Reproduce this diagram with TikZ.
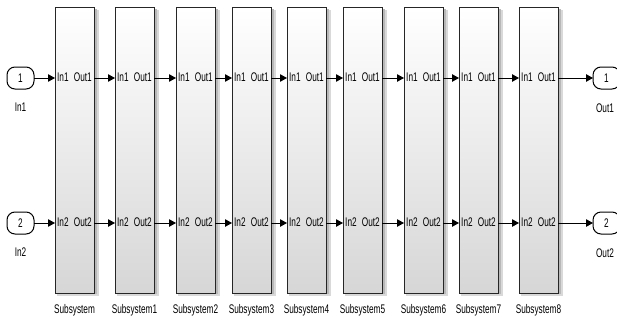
\documentclass[tikz,border=0pt]{standalone}
\usepackage{fontspec}
\setmainfont{Liberation Sans}[FakeStretch=0.66]
\usetikzlibrary{arrows.meta}
\tikzset{
  sysbox/.style={draw=black!85, line width=1pt, top color=white, bottom color=black!16,
    minimum width=39pt, minimum height=285pt, inner sep=0pt, outer sep=0pt},
  portbox/.style={draw=black, line width=1pt, rounded corners=8pt, fill=white,
    minimum width=27pt, minimum height=22pt, inner sep=0pt, outer sep=0pt},
  txt/.style={inner sep=0pt, font=\fontsize{12.5}{13}\selectfont},
  arr/.style={line width=1pt, -{Triangle[length=7pt,width=7.5pt]}},
}
\begin{document}
\begin{tikzpicture}[x=1pt,y=1pt]
\useasboundingbox (0,0) rectangle (617,322);
\fill[white] (0,0) rectangle (617,322);
\coordinate (r1) at (0,244);
\coordinate (r2) at (0,99);
% subsystems
\foreach \i/\x/\lab in {0/55/Subsystem,1/115/Subsystem1,2/176/Subsystem2,3/232/Subsystem3,4/287/Subsystem4,5/343/Subsystem5,6/404/Subsystem6,7/459/Subsystem7,8/519/Subsystem8}{
  \fill[black!15] (\x+2,26.5) rectangle (\x+43.5,312);
  \fill[black!28] (\x+2,28) rectangle (\x+41.5,313);
  \node[sysbox] (s\i) at (\x+19.5,171.5) {};
  \node[txt, anchor=west] (i1s\i) at (\x+2,244.5) {In1};
  \node[txt, anchor=east] (o1s\i) at (\x+37,244.5) {Out1};
  \node[txt, anchor=west] (i2s\i) at (\x+2,99.5) {In2};
  \node[txt, anchor=east] (o2s\i) at (\x+37,99.5) {Out2};
  \node[txt] (l\i) at (\x+19.5,12) {\lab};
}
% ports
\node[portbox] (in1) at (20.5,244) {\fontsize{12.5}{13}\selectfont 1};
\node[portbox] (in2) at (20.5,99) {\fontsize{12.5}{13}\selectfont 2};
\node[portbox] (out1) at (606.5,244) {\fontsize{12.5}{13}\selectfont 1};
\node[portbox] (out2) at (606.5,99) {\fontsize{12.5}{13}\selectfont 2};
\node[txt] (lin1) at (20.5,215) {In1};
\node[txt] (lin2) at (20.5,70) {In2};
\node[txt] (lout1) at (605,214) {Out1};
\node[txt] (lout2) at (605,69) {Out2};
% connectors
\draw[arr] (in1.east) -- (s0.west |- r1);
\draw[arr] (in2.east) -- (s0.west |- r2);
\foreach \a/\b in {0/1,1/2,2/3,3/4,4/5,5/6,6/7,7/8}{
  \draw[arr] (s\a.east |- r1) -- (s\b.west |- r1);
  \draw[arr] (s\a.east |- r2) -- (s\b.west |- r2);
}
\draw[arr] (s8.east |- r1) -- (out1.west);
\draw[arr] (s8.east |- r2) -- (out2.west);
\end{tikzpicture}
\end{document}
